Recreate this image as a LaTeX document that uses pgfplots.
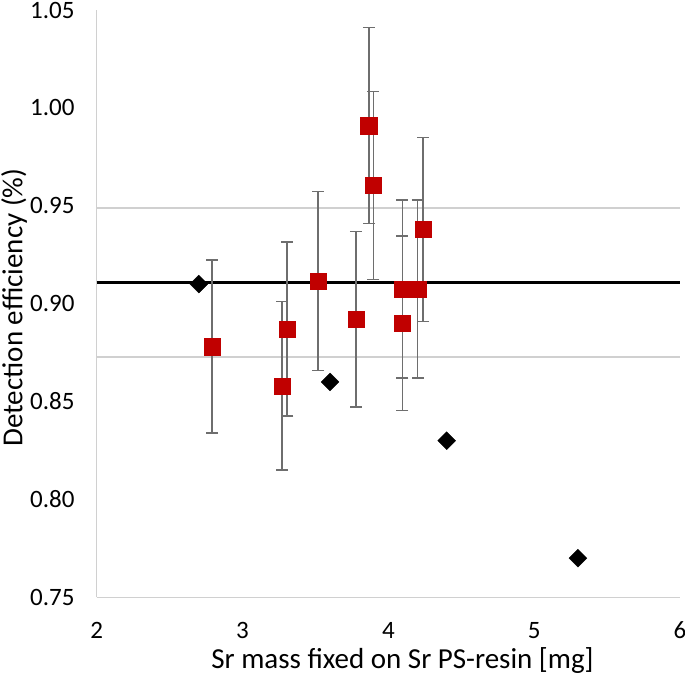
\documentclass[border=0pt]{standalone}
\usepackage{pgfplots}
\pgfplotsset{compat=1.18}
\usepackage{fontspec}
\setmainfont{Carlito}
\definecolor{redsq}{HTML}{C00000}
\definecolor{errgray}{HTML}{6E6E6E}
\definecolor{axgray}{HTML}{D0D0D0}
\begin{document}
\begin{tikzpicture}
\path[use as bounding box] (-96.7pt,-81.7pt) rectangle (588.3pt,597.3pt);
\begin{axis}[
  at={(0,0)}, anchor=south west,
  scale only axis, width=583.3pt, height=587.3pt,
  xmin=2, xmax=6, ymin=0.75, ymax=1.05,
  xtick={2,3,4,5,6}, ytick={0.75,0.80,...,1.05},
  y tick label style={/pgf/number format/fixed, /pgf/number format/fixed zerofill, /pgf/number format/precision=2},
  /pgf/number format/assume math mode=true,
  tick label style={font=\fontsize{25}{29}\selectfont, inner sep=0pt},
  y tick label style={anchor=east, xshift=-22pt},
  x tick label style={anchor=north, yshift=-24.5pt},
  tick style={draw=none},
  axis lines*=left,
  axis line style={draw=axgray, line width=1.3pt},
  separate axis lines,
  x axis line style={-}, y axis line style={-},
  xlabel={Sr mass fixed on Sr PS-resin [mg]},
  ylabel={Detection efficiency (\%)},
  label style={font=\fontsize{29}{33}\selectfont, inner sep=0pt},
  xlabel style={at={(axis description cs:0.5242,-0.1204)}, anchor=base},
  ylabel style={at={(axis description cs:-0.1641,0.4932)}, anchor=north},
  clip=false,
]
% mean +/- std lines
\addplot[axgray, line width=2pt] coordinates {(2,0.949) (6,0.949)};
\addplot[axgray, line width=2pt] coordinates {(2,0.8727) (6,0.8727)};
\addplot[black, line width=3.5pt] coordinates {(2,0.9108) (6,0.9108)};
% diamonds
\addplot[only marks, mark=square*, mark size=6.3pt, mark options={rotate=45, fill=black, draw=black}] coordinates {
(2.70,0.910) (3.60,0.860) (4.40,0.830) (5.30,0.770)};
% red squares with error bars
\addplot[only marks, mark=square*, mark size=8.2pt, mark options={fill=redsq, draw=redsq, line width=0.3pt},
  error bars/.cd, y dir=both, y explicit,
  error bar style={errgray, line width=1.6pt},
  error mark options={rotate=90, mark size=6pt, errgray, line width=1.6pt}]
  coordinates {
(2.791,0.878) +- (0,0.0442)
(3.271,0.858) +- (0,0.043)
(3.307,0.887) +- (0,0.0445)
(3.518,0.9115) +- (0,0.0457)
(3.778,0.892) +- (0,0.0448)
(3.866,0.991) +- (0,0.050)
(3.897,0.9604) +- (0,0.048)
(4.096,0.890) +- (0,0.0446)
(4.096,0.9074) +- (0,0.0455)
(4.201,0.9074) +- (0,0.0455)
(4.238,0.9379) +- (0,0.047)
};
\end{axis}
\end{tikzpicture}
\end{document}
